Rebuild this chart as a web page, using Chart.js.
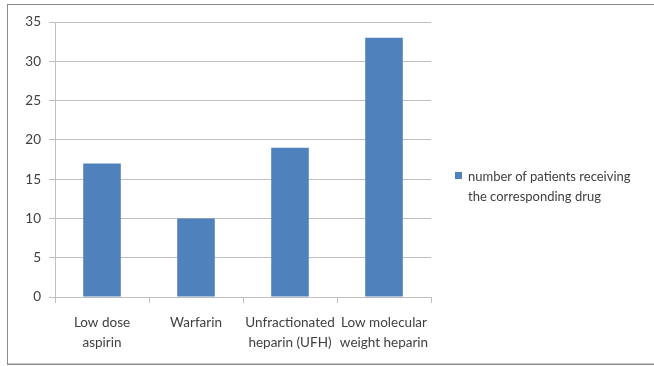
<!DOCTYPE html>
<html>
<head>
<meta charset="utf-8">
<script src="https://cdn.jsdelivr.net/npm/chart.js@4/dist/chart.umd.min.js"></script>
<style>
  html, body { margin: 0; padding: 0; background: #fff; }
  body { width: 654px; height: 366px; position: relative; overflow: hidden; font-family: Lato, "Liberation Sans", sans-serif; }
  #frame { position: absolute; left: 7px; top: 4px; width: 652px; height: 361px; border: 1px solid #8c8c8c; border-right: none; box-shadow: 0 -1px 0 #c8c8c8 inset; box-sizing: border-box; }
  #wrap { position: absolute; left: 0; top: 0; width: 654px; height: 366px; }
  #legend { position: absolute; left: 455px; top: 166px; font-size: 13px; color: #404040; line-height: 20px; }
  #legend .sw { position: absolute; left: 0; top: 6px; width: 7px; height: 7px; background: #4f81bd; }
  #legend .tx { margin-left: 13px; }
</style>
</head>
<body>
<div id="frame"></div>
<div id="wrap"><canvas id="c" width="654" height="366"></canvas></div>
<div id="legend"><div class="sw"></div><div class="tx">number of patients receiving<br>the corresponding drug</div></div>
<script>
const categories = [
  ["Low dose", "aspirin"],
  ["Warfarin"],
  ["Unfractionated", "heparin (UFH)"],
  ["Low molecular", "weight heparin"]
];
const seriesName = "number of patients receiving the corresponding drug";
const patientCounts = [17, 10, 19, 33];
const yTicks = [0, 5, 10, 15, 20, 25, 30, 35];

const axisGray = "#bfbfbf";
const textGray = "#404040";

new Chart(document.getElementById("c"), {
  type: "bar",
  data: {
    labels: categories,
    datasets: [{
      label: seriesName,
      data: patientCounts,
      backgroundColor: "#4f81bd",
      borderWidth: 0,
      categoryPercentage: 1.0,
      barPercentage: 0.4
    }]
  },
  options: {
    responsive: false,
    animation: false,
    layout: { padding: { top: 22, right: 223, left: 0, bottom: 0 } },
    plugins: { legend: { display: false }, tooltip: { enabled: false } },
    scales: {
      x: {
        offset: true,
        grid: { offset: true, drawOnChartArea: false, drawTicks: true, tickLength: 6, color: axisGray },
        border: { color: axisGray },
        ticks: { color: textGray, font: { family: "Lato", size: 13.5, lineHeight: 1.45 }, padding: 10, maxRotation: 0, autoSkip: false },
        afterFit: s => { s.height = 69; }
      },
      y: {
        min: 0, max: 35,
        afterBuildTicks: s => { s.ticks = yTicks.map(v => ({ value: v })); },
        grid: { color: axisGray, tickLength: 6 },
        border: { color: axisGray },
        ticks: { color: textGray, font: { family: "Lato", size: 13.5 }, padding: 8 },
        afterFit: s => { s.width = 55; }
      }
    }
  }
});
</script>
</body>
</html>
